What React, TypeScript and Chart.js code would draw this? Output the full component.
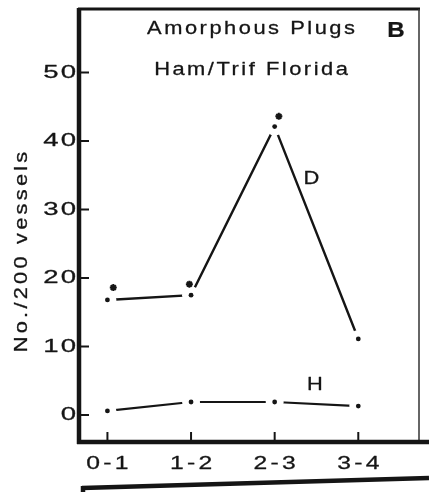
import React, { useEffect, useRef } from "react";
import { Chart, registerables } from "chart.js";

Chart.register(...registerables);

// ---- data ----
const categories = ["0-1", "1-2", "2-3", "3-4"];
const dValues = [16.8, 17.5, 42.1, 11.1];
const hValues = [0.6, 1.9, 1.9, 1.3];
const starX = [0.07, 0.98, 2.05];
const starY = [18.6, 19.1, 43.6];
const yTickValues = [0, 10, 20, 30, 40, 50];
const seriesNames = ["D", "H"];
const seriesLabelX = [2.44, 2.48];
const seriesLabelY = [34.5, 4.4];
const titleLines = ["Amorphous Plugs", "Ham/Trif Florida"];
const panelLetter = "B";
const yAxisTitle = "No./200 vessels";

const INK = "#151515";
const FONT = "'Liberation Sans', Arial, sans-serif";

type TextOpts = {
  align?: "left" | "center" | "right";
  size?: number;
  bold?: boolean;
  sx?: number;
  spacing?: number;
  rotate?: number;
  weight?: number;
};

function drawText(ctx: CanvasRenderingContext2D, text: string, x: number, y: number, o: TextOpts = {}) {
  const size = o.size ?? 19;
  const sx = o.sx ?? 1.15;
  const weight = o.weight ?? 0.3;
  ctx.save();
  ctx.font = `${o.bold ? "bold " : ""}${size}px ${FONT}`;
  (ctx as any).letterSpacing = `${o.spacing ?? 0}px`;
  ctx.fillStyle = INK;
  ctx.strokeStyle = INK;
  ctx.lineWidth = weight;
  ctx.lineJoin = "round";
  ctx.textBaseline = "middle";
  ctx.textAlign = "left";
  const w = ctx.measureText(text).width - (o.spacing ?? 0);
  ctx.translate(x, y);
  if (o.rotate) ctx.rotate(o.rotate);
  ctx.scale(sx, 1);
  let left = 0;
  const align = o.align ?? "center";
  if (align === "center") left = -w / 2;
  else if (align === "right") left = -w;
  ctx.fillText(text, left, 0);
  if (weight > 0) ctx.strokeText(text, left, 0);
  ctx.restore();
}

const decorPlugin = {
  id: "decor",
  afterDraw(chart: any) {
    const ctx: CanvasRenderingContext2D = chart.ctx;
    const { left, right, top, bottom } = chart.chartArea;
    const xs = chart.scales.x;
    const ys = chart.scales.y;
    ctx.save();
    ctx.strokeStyle = INK;
    ctx.lineCap = "butt";
    // frame
    ctx.lineWidth = 3;
    ctx.beginPath();
    ctx.moveTo(left - 2, top);
    ctx.lineTo(right, top);
    ctx.stroke();
    ctx.lineWidth = 1.5;
    ctx.strokeStyle = "#333";
    ctx.beginPath();
    ctx.moveTo(right - 1, top);
    ctx.lineTo(right - 1, bottom);
    ctx.stroke();
    ctx.strokeStyle = INK;
    ctx.lineWidth = 4.5;
    ctx.beginPath();
    ctx.moveTo(left - 1, top - 1);
    ctx.lineTo(left - 1, bottom + 2);
    ctx.stroke();
    ctx.beginPath();
    ctx.moveTo(left - 3, bottom);
    ctx.lineTo(chart.width, bottom);
    ctx.stroke();
    // lower panel edge (next figure)
    ctx.lineWidth = 4.5;
    ctx.beginPath();
    ctx.moveTo(left + 2, 488);
    ctx.lineTo(chart.width, 478);
    ctx.stroke();
    ctx.beginPath();
    ctx.moveTo(left + 3, 486);
    ctx.lineTo(left + 3, chart.height);
    ctx.stroke();
    // y ticks (inward)
    ctx.lineWidth = 2;
    yTickValues.forEach((v) => {
      const py = ys.getPixelForValue(v);
      ctx.beginPath();
      ctx.moveTo(left, py);
      ctx.lineTo(left + 9, py);
      ctx.stroke();
      drawText(ctx, String(v), left - 4, py, { align: "right", sx: 1.45, spacing: 1.5 });
    });
    // x ticks (inward)
    categories.forEach((c, i) => {
      const px = xs.getPixelForValue(i);
      ctx.beginPath();
      ctx.moveTo(px, bottom);
      ctx.lineTo(px, bottom - 10);
      ctx.stroke();
      drawText(ctx, c, px, 464, { align: "center", sx: 1.3, spacing: 2.5 });
    });
    // series labels
    seriesNames.forEach((n, i) => {
      drawText(ctx, n, xs.getPixelForValue(seriesLabelX[i]), ys.getPixelForValue(seriesLabelY[i]), {
        align: "center",
        sx: 1.15,
      });
    });
    // titles
    drawText(ctx, titleLines[0], 251, 29, { align: "center", sx: 1.15, spacing: 2.2 });
    drawText(ctx, titleLines[1], 251, 70, { align: "center", sx: 1.15, spacing: 2.2 });
    drawText(ctx, panelLetter, 396, 31, { align: "center", size: 22, bold: true, sx: 1.1, weight: 0.2 });
    // y axis title
    drawText(ctx, yAxisTitle, 22, 252, { align: "center", sx: 1.15, spacing: 2.8, rotate: -Math.PI / 2 });
    ctx.restore();
  },
};

export default function App() {
  const ref = useRef<HTMLCanvasElement | null>(null);
  useEffect(() => {
    if (!ref.current) return;
    const pts = (vals: number[]) => vals.map((v, i) => ({ x: i, y: v }));
    const chart = new Chart(ref.current, {
      type: "line",
      data: {
        datasets: [
          {
            label: "significance",
            data: starX.map((x, i) => ({ x, y: starY[i] })),
            showLine: false,
            pointStyle: "star",
            pointRadius: 3.5,
            pointBorderWidth: 2,
            pointBorderColor: INK,
            pointBackgroundColor: INK,
          },
          {
            label: "D points",
            data: pts(dValues),
            showLine: false,
            pointRadius: 2.4,
            pointBorderWidth: 0,
            pointBackgroundColor: INK,
          },
          {
            label: "H points",
            data: pts(hValues),
            showLine: false,
            pointRadius: 2.4,
            pointBorderWidth: 0,
            pointBackgroundColor: INK,
          },
          {
            label: "D",
            data: pts(dValues),
            borderColor: INK,
            borderWidth: 2.4,
            tension: 0,
            pointRadius: 9,
            pointBorderWidth: 0,
            pointBackgroundColor: "#ffffff",
          },
          {
            label: "H",
            data: pts(hValues),
            borderColor: INK,
            borderWidth: 2.2,
            tension: 0,
            pointRadius: 9,
            pointBorderWidth: 0,
            pointBackgroundColor: "#ffffff",
          },
        ],
      },
      options: {
        responsive: false,
        animation: false,
        events: [],
        layout: { padding: { left: 80, top: 9, right: 2, bottom: 50 } },
        plugins: { legend: { display: false }, tooltip: { enabled: false }, title: { display: false } },
        scales: {
          x: { type: "linear", display: false, min: -0.328, max: 3.738 },
          y: { type: "linear", display: false, min: -3.94, max: 59.27 },
        },
      },
      plugins: [decorPlugin],
    });
    return () => chart.destroy();
  }, []);
  return (
    <div style={{ position: "fixed", left: 0, top: 0, width: 429, height: 492, background: "#fff" }}>
      <canvas ref={ref} width={429} height={492} style={{ display: "block" }} />
    </div>
  );
}
